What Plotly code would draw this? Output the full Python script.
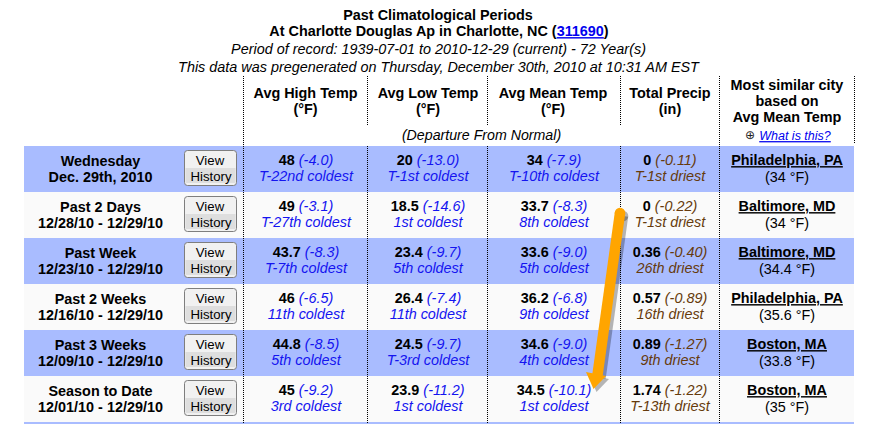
import plotly.graph_objects as go

# ---- data ----
title_lines = ["Past Climatological Periods", "At Charlotte Douglas Ap in Charlotte, NC ("]
station_id = "311690"
subtitle_lines = ["Period of record: 1939-07-01 to 2010-12-29 (current) - 72 Year(s)",
                  "This data was pregenerated on Thursday, December 30th, 2010 at 10:31 AM EST"]
col_heads = [["Avg High Temp", "(°F)"], ["Avg Low Temp", "(°F)"], ["Avg Mean Temp", "(°F)"],
             ["Total Precip", "(in)"]]
similar_head = ["Most similar city", "based on", "Avg Mean Temp"]
departure_note = "(Departure From Normal)"
help_link = "What is this?"
periods = ["Wednesday", "Past 2 Days", "Past Week", "Past 2 Weeks", "Past 3 Weeks", "Season to Date"]
dates = ["Dec. 29th, 2010", "12/28/10 - 12/29/10", "12/23/10 - 12/29/10",
         "12/16/10 - 12/29/10", "12/09/10 - 12/29/10", "12/01/10 - 12/29/10"]
high_val = ["48", "49", "43.7", "46", "44.8", "45"]
high_dep = ["(-4.0)", "(-3.1)", "(-8.3)", "(-6.5)", "(-8.5)", "(-9.2)"]
high_rank = ["T-22nd coldest", "T-27th coldest", "T-7th coldest", "11th coldest", "5th coldest", "3rd coldest"]
low_val = ["20", "18.5", "23.4", "26.4", "24.5", "23.9"]
low_dep = ["(-13.0)", "(-14.6)", "(-9.7)", "(-7.4)", "(-9.7)", "(-11.2)"]
low_rank = ["T-1st coldest", "1st coldest", "5th coldest", "11th coldest", "T-3rd coldest", "1st coldest"]
mean_val = ["34", "33.7", "33.6", "36.2", "34.6", "34.5"]
mean_dep = ["(-7.9)", "(-8.3)", "(-9.0)", "(-6.8)", "(-9.0)", "(-10.1)"]
mean_rank = ["T-10th coldest", "8th coldest", "5th coldest", "9th coldest", "4th coldest", "1st coldest"]
prcp_val = ["0", "0", "0.36", "0.57", "0.89", "1.74"]
prcp_dep = ["(-0.11)", "(-0.22)", "(-0.40)", "(-0.89)", "(-1.27)", "(-1.22)"]
prcp_rank = ["T-1st driest", "T-1st driest", "26th driest", "16th driest", "9th driest", "T-13th driest"]
cities = ["Philadelphia, PA", "Baltimore, MD", "Baltimore, MD", "Philadelphia, PA", "Boston, MA", "Boston, MA"]
city_temp = ["(34 °F)", "(34 °F)", "(34.4 °F)", "(35.6 °F)", "(33.8 °F)", "(35 °F)"]

# ---- layout constants ----
W, H = 892, 424
FONT = "Liberation Sans"
SIZE = 14.4
PLAIN = 13.2
BLUE = "#1414F0"
BROWN = "#663A0C"
ROW_BLUE = "#A9BCFF"
ROW_WHITE = "#FAFAFA"
TOP, ROW_H = 146, 46
LEFT, RIGHT = 24, 854
COL_X = [306, 428, 554, 670, 787]
shapes = []


def vdots(x, y0, y1):
    shapes.append(dict(type="line", x0=x, x1=x, y0=y0, y1=y1, layer="above",
                       line=dict(color="black", width=1, dash="1px,1px")))


def rrect(x0, y0, x1, y1, r):
    return (f"M{x0+r},{y0} L{x1-r},{y0} Q{x1},{y0} {x1},{y0+r} L{x1},{y1-r} Q{x1},{y1} {x1-r},{y1} "
            f"L{x0+r},{y1} Q{x0},{y1} {x0},{y1-r} L{x0},{y0+r} Q{x0},{y0} {x0+r},{y0} Z")


# row bands + buttons
for i in range(7):
    y0 = TOP + i * ROW_H
    shapes.append(dict(type="rect", x0=LEFT, x1=RIGHT, y0=y0, y1=y0 + ROW_H, layer="below",
                       fillcolor=ROW_BLUE if i % 2 == 0 else ROW_WHITE, line=dict(width=0)))
for i in range(6):
    y0 = TOP + i * ROW_H
    shapes.append(dict(type="path", path=rrect(184.5, y0 + 4.5, 236.5, y0 + 39.5, 3), layer="below",
                       fillcolor="#F1F1F1", line=dict(color="#7E7E7E", width=1)))
    shapes.append(dict(type="rect", x0=185.5, x1=235.5, y0=y0 + 22, y1=y0 + 37, layer="below",
                       fillcolor="#DEDEDE", line=dict(width=0)))

# dotted separators
vdots(243.5, 76, 424)
for x in (367.5, 487.5, 620.5):
    vdots(x, 76, 126)
    vdots(x, 146, 424)
vdots(719.5, 76, 424)
vdots(854.5, 76, 144)

# orange arrow: shadow then body
for dx, col, op in ((3, "#000000", 0.28), (0, "#FFA500", 1)):
    shapes.append(dict(type="line", x0=620 + dx, y0=213 + dx, x1=597.5 + dx, y1=375 + dx, layer="above",
                       opacity=op, line=dict(color=col, width=10.5)))
    shapes.append(dict(type="path", layer="above", opacity=op, fillcolor=col, line=dict(width=0),
                       path=f"M{586+dx},{372+dx} L{606+dx},{376+dx} L{593.5+dx},{389+dx} Z"))
    shapes.append(dict(type="circle", x0=614.7 + dx, x1=625.3 + dx, y0=207.7 + dx, y1=218.3 + dx, layer="above",
                       opacity=op, fillcolor=col, line=dict(width=0)))

xs, ys, texts = [], [], []


def put(x, y, t):
    xs.append(x)
    ys.append(y + 1)
    texts.append(t)


def span(t, color, italic=True):
    s = f'<span style="color:{color}">{t}</span>'
    return f"<i>{s}</i>" if italic else s


def uline(t):
    return f'<span style="text-decoration:underline">{t}</span>'


def plain(t, size=PLAIN):
    return f'<span style="font-size:{size}px">{t}</span>'


# title block
put(438, 15.5, f"<b>{title_lines[0]}</b>")
put(439, 31.5, f"<b>{title_lines[1]}"
    f'<span style="color:#0000EE;text-decoration:underline">{station_id}</span>)</b>')
put(438.5, 49.5, f"<i>{subtitle_lines[0]}</i>")
put(438.5, 67, f"<i>{subtitle_lines[1]}</i>")

# column headers
head_x = [305.5, 428, 553, 670]
for x, (a, b) in zip(head_x, col_heads):
    put(x, 93, f"<b>{a}</b>")
    put(x, 109.5, f"<b>{b}</b>")
for k, t in enumerate(similar_head):
    put(787, 85 + 16 * k, f"<b>{t}</b>")
put(481.5, 135, f'<i>{plain(departure_note, 14.2)}</i>')
put(795, 135.5, f'<i><span style="color:#0000EE;text-decoration:underline;font-size:12.5px">{help_link}</span></i>')

# rows
for i in range(6):
    y0 = TOP + i * ROW_H
    put(100.5, y0 + 15, f"<b>{periods[i]}</b>")
    put(100.5, y0 + 31, f"<b>{dates[i]}</b>")
    put(210, y0 + 14, plain("View"))
    put(211, y0 + 30, plain("History"))
    for x, v, d, r, c in ((COL_X[0], high_val, high_dep, high_rank, BLUE),
                          (COL_X[1], low_val, low_dep, low_rank, BLUE),
                          (COL_X[2], mean_val, mean_dep, mean_rank, BLUE),
                          (COL_X[3], prcp_val, prcp_dep, prcp_rank, BROWN)):
        put(x, y0 + 14.5, f"<b>{v[i]}</b> {span(d[i], c)}")
        put(x, y0 + 30, span(r[i], c))
    put(787, y0 + 14.5, "<b>" + uline(cities[i]) + "</b>")
    put(787, y0 + 31, city_temp[i])

fig = go.Figure()
fig.add_trace(go.Scatter(x=xs, y=ys, text=texts, mode="text", textposition="middle center",
                         textfont=dict(family=FONT, size=SIZE, color="black"),
                         hoverinfo="skip", cliponaxis=False, showlegend=False))
fig.add_trace(go.Scatter(x=[750], y=[136], text=["⊕"], mode="text", textposition="middle center",
                         textfont=dict(family="DejaVu Sans", size=12, color="#222222"),
                         hoverinfo="skip", showlegend=False))
fig.update_layout(width=W, height=H, margin=dict(l=0, r=0, t=0, b=0),
                  paper_bgcolor="white", plot_bgcolor="white", shapes=shapes,
                  xaxis=dict(range=[0, W], visible=False, fixedrange=True),
                  yaxis=dict(range=[H, 0], visible=False, fixedrange=True))
fig.write_html("out.html", config={"displayModeBar": False},
               post_script="document.body.style.margin='0';document.documentElement.style.overflow='hidden';")
